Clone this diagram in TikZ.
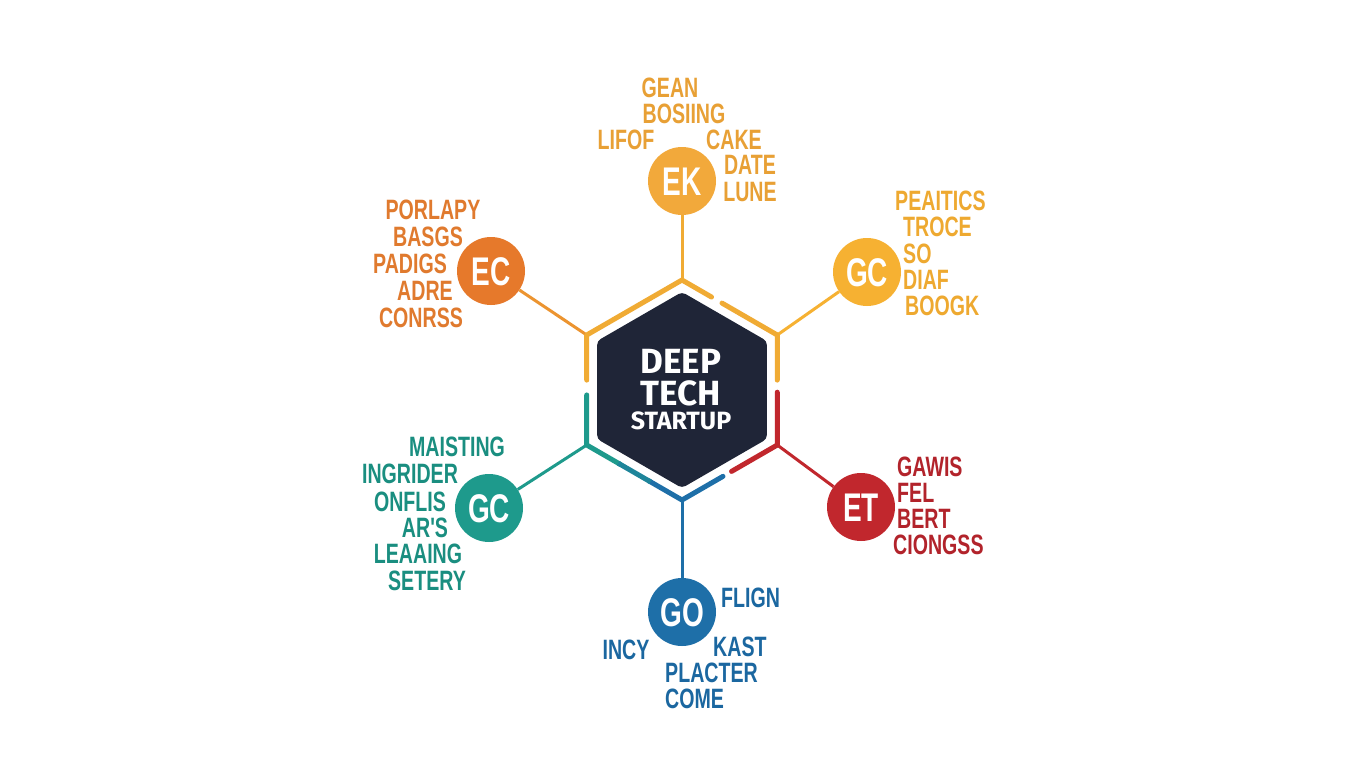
\documentclass[tikz,border=0pt]{standalone}
\usepackage{fontspec}
\usetikzlibrary{shapes.geometric,calc}
\newfontfamily\condfont{Liberation Sans}[FakeStretch=0.7]
\newfontfamily\hubfont{Fira Sans}
\definecolor{navy}{HTML}{1F2537}
\definecolor{ylw}{HTML}{F0AB34}
\definecolor{ekc}{HTML}{F2A93B}
\definecolor{ekt}{HTML}{E8A035}
\definecolor{ecc}{HTML}{E6792B}
\definecolor{ect}{HTML}{E07A2E}
\definecolor{gyc}{HTML}{F6B132}
\definecolor{gyt}{HTML}{EEA930}
\definecolor{tlc}{HTML}{1E9A8C}
\definecolor{tlt}{HTML}{1A8E80}
\definecolor{rdc}{HTML}{C1272D}
\definecolor{rdt}{HTML}{B2232B}
\definecolor{blc}{HTML}{1E6FA8}
\definecolor{blt}{HTML}{1B67A0}
\tikzset{
  lbl/.style={font=\condfont\bfseries\fontsize{28}{28}\selectfont, inner sep=0pt,
    text height=20pt, text depth=0pt},
  bub/.style={circle, minimum size=68pt, inner sep=0pt, text=white,
    font=\condfont\bfseries\fontsize{40}{40}\selectfont, text height=28.6pt, text depth=0pt},
  rim/.style={line width=5pt, line cap=round, line join=round},
  spoke/.style={line width=3pt},
  hubtxt/.style={text=white, inner sep=0pt, text depth=0pt},
}
\begin{document}
\begin{tikzpicture}[x=1pt,y=-1pt]
\fill[white] (0,0) rectangle (1365,768);
\useasboundingbox (0,0) rectangle (1365,768);

% hexagon vertices of the outer rim
\coordinate (vT)  at (682,280);
\coordinate (vTR) at (777.26,335);
\coordinate (vBR) at (777.26,445);
\coordinate (vB)  at (682,500);
\coordinate (vBL) at (586.74,445);
\coordinate (vTL) at (586.74,335);

% bubbles
\node[bub, fill=ekc] (ek)  at (682,181) {EK};
\node[bub, fill=ecc] (ec)  at (491,271) {EC};
\node[bub, fill=gyc] (gcy) at (867,272) {GC};
\node[bub, fill=tlc] (gct) at (489,508) {GC};
\node[bub, fill=rdc] (et)  at (861,507) {ET};
\node[bub, fill=blc] (go)  at (682,612) {GO};

% spokes
\draw[spoke, ylw] (vT) -- (ek);
\draw[spoke, ylw!55!ecc] (vTL) -- (ec);
\draw[spoke, gyc] (vTR) -- (gcy);
\draw[spoke, tlc] (vBL) -- (gct);
\draw[spoke, rdc] (vBR) -- (et);
\draw[spoke, blc] (vB) -- (go);

% rim
\draw[rim, ylw] ($(vTL)!0.41!(vBL)$) -- (vTL) -- (vT) -- ($(vT)!0.31!(vTR)$);
\draw[rim, ylw] ($(vT)!0.42!(vTR)$) -- (vTR) -- ($(vTR)!0.41!(vBR)$);
\draw[rim, rdc] ($(vTR)!0.52!(vBR)$) -- (vBR) -- ($(vBR)!0.48!(vB)$);
\draw[rim, blc] ($(vBR)!0.57!(vB)$) -- (vB) -- ($(vB)!0.35!(vBL)$);
\draw[rim, tlc] ($(vB)!0.65!(vBL)$) -- (vBL) -- ($(vBL)!0.455!(vTL)$);
\draw[rim, line cap=butt, blc!50!tlc] ($(vB)!0.33!(vBL)$) -- ($(vB)!0.67!(vBL)$);

% hub
\node[regular polygon, regular polygon sides=6, regular polygon rotate=30,
      minimum size=196pt, inner sep=0pt, fill=navy, rounded corners=4pt] (hub) at (682,390) {};
\node[hubtxt, font=\hubfont\bfseries\fontsize{35}{35}\selectfont, text height=24pt] (hubA) at (681,361) {DEEP};
\node[hubtxt, font=\hubfont\bfseries\fontsize{35}{35}\selectfont, text height=24pt] (hubB) at (681,393) {TECH};
\node[hubtxt, font=\hubfont\bfseries\fontsize{25}{25}\selectfont, text height=17.2pt] (hubC) at (681,421) {STARTUP};

% EK labels
\begin{scope}[every node/.style={lbl, text=ekt}]
\node (ek1) at (670,87) {GEAN};
\node (ek2) at (684,113) {BOSIING};
\node (ek3) at (626,139) {LIFOF};
\node (ek4) at (734,139) {CAKE};
\node (ek5) at (750,164) {DATE};
\node (ek6) at (750,191) {LUNE};
\end{scope}

% EC labels
\begin{scope}[every node/.style={lbl, text=ect}]
\node (ec1) at (433,209) {PORLAPY};
\node (ec2) at (428,236) {BASGS};
\node (ec3) at (410,263) {PADIGS};
\node (ec4) at (425,290) {ADRE};
\node (ec5) at (421,317) {CONRSS};
\end{scope}

% GC (yellow) labels
\begin{scope}[every node/.style={lbl, text=gyt, anchor=west}]
\node (gy1) at (895,200) {PEAITICS};
\node (gy2) at (903,226) {TROCE};
\node (gy3) at (903,253) {SO};
\node (gy4) at (903,279) {DIAF};
\node (gy5) at (905,305) {BOOGK};
\end{scope}

% GC (teal) labels
\begin{scope}[every node/.style={lbl, text=tlt}]
\node (gt1) at (457,446) {MAISTING};
\node (gt2) at (410,473) {INGRIDER};
\node (gt3) at (410,501) {ONFLIS};
\node (gt4) at (425,527) {AR'S};
\node (gt5) at (418,553) {LEAAING};
\node (gt6) at (427,580) {SETERY};
\end{scope}

% ET labels
\begin{scope}[every node/.style={lbl, text=rdt, anchor=west}]
\node (et1) at (897,466) {GAWIS};
\node (et2) at (897,492) {FEL};
\node (et3) at (897,518) {BERT};
\node (et4) at (893,544) {CIONGSS};
\end{scope}

% GO labels
\begin{scope}[every node/.style={lbl, text=blt}]
\node[anchor=west] (go1) at (721,597) {FLIGN};
\node (go2) at (626,649) {INCY};
\node[anchor=west] (go3) at (713,646) {KAST};
\node[anchor=west] (go4) at (665,672) {PLACTER};
\node[anchor=west] (go5) at (665,698) {COME};
\end{scope}
\end{tikzpicture}
\end{document}
